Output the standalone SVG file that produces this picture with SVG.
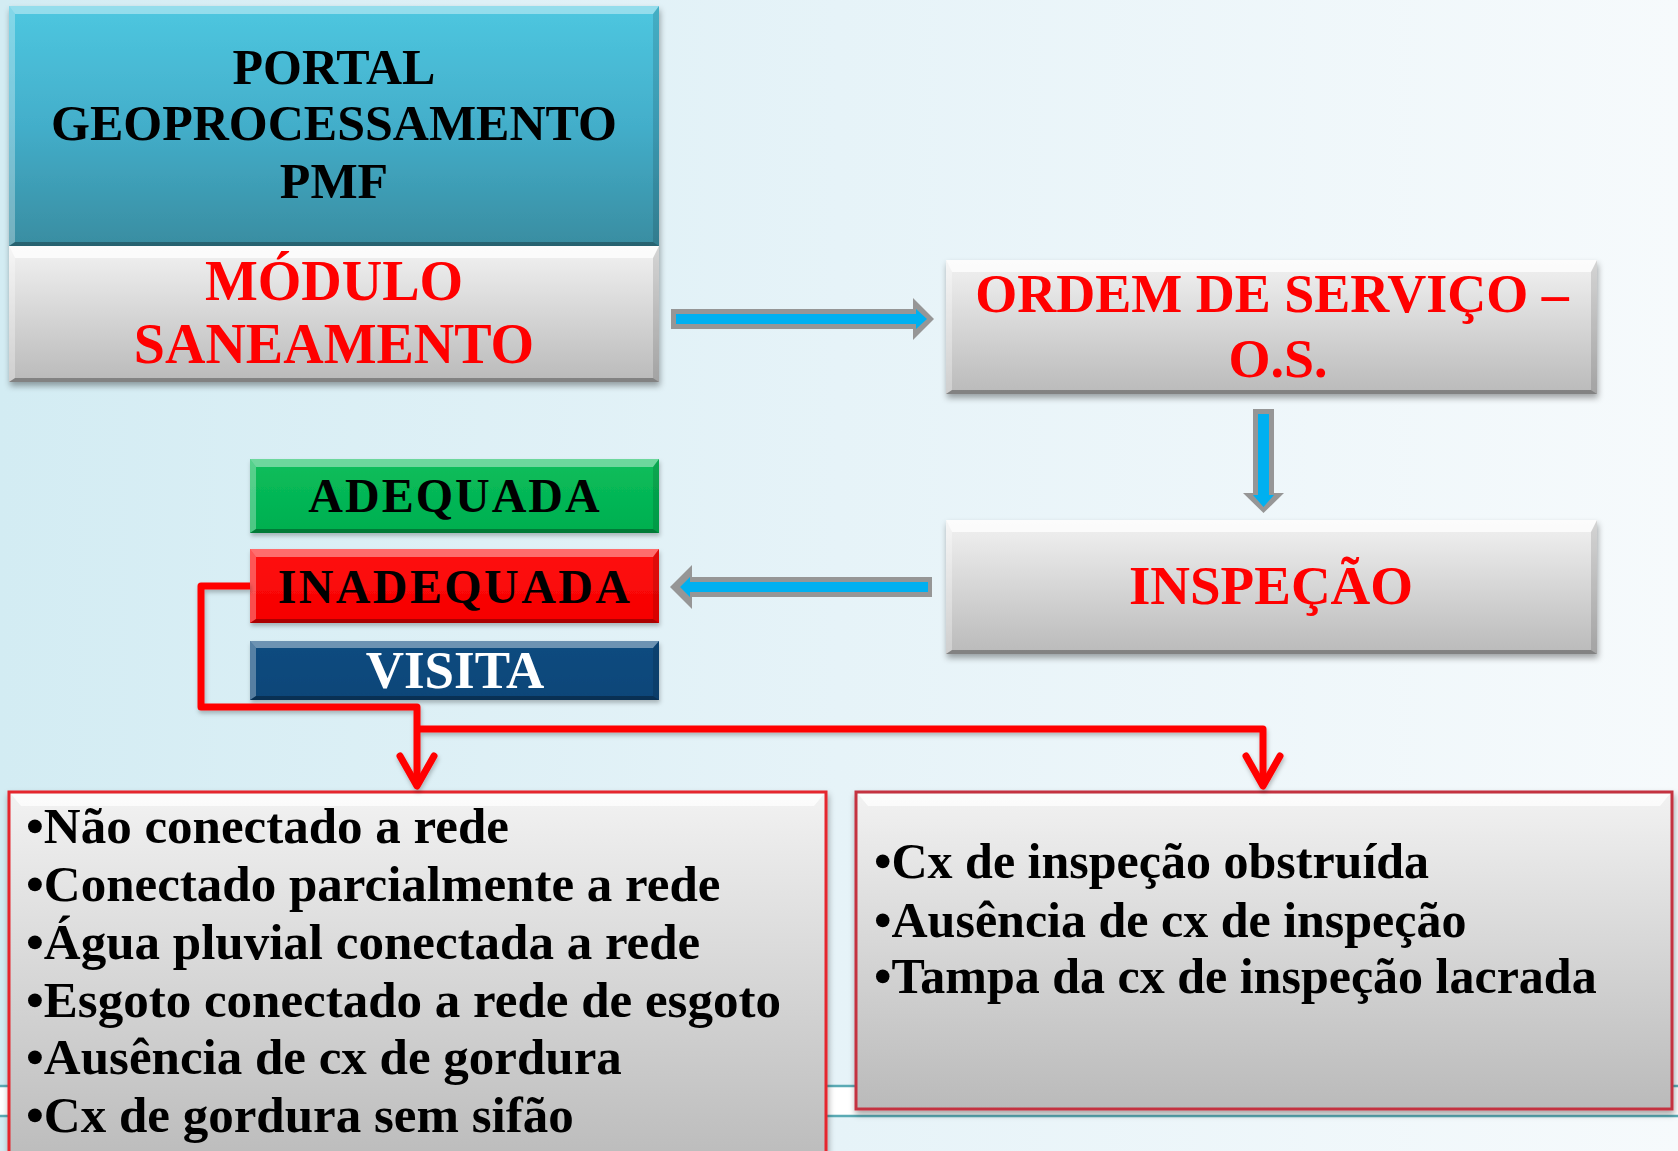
<svg xmlns="http://www.w3.org/2000/svg" width="1678" height="1151" viewBox="0 0 1678 1151">
<defs>
<linearGradient id="bg" x1="0" y1="0" x2="1" y2="0">
<stop offset="0" stop-color="#D3ECF3"/>
<stop offset="0.5" stop-color="#E6F3F8"/>
<stop offset="1" stop-color="#F6FAFC"/>
</linearGradient>
<linearGradient id="gTeal" x1="0" y1="0" x2="0" y2="1">
<stop offset="0" stop-color="#4EC7E0"/>
<stop offset="0.5" stop-color="#43AECA"/>
<stop offset="1" stop-color="#398DA1"/>
</linearGradient>
<linearGradient id="gGrey" x1="0" y1="0" x2="0" y2="1">
<stop offset="0" stop-color="#F2F2F2"/>
<stop offset="0.25" stop-color="#E4E4E4"/>
<stop offset="1" stop-color="#BABABA"/>
</linearGradient>
<linearGradient id="gGreen" x1="0" y1="0" x2="0" y2="1">
<stop offset="0" stop-color="#0BBE5C"/>
<stop offset="1" stop-color="#00AF4F"/>
</linearGradient>
<linearGradient id="gRed" x1="0" y1="0" x2="0" y2="1">
<stop offset="0" stop-color="#FF1010"/>
<stop offset="1" stop-color="#F50000"/>
</linearGradient>
<linearGradient id="gBlue" x1="0" y1="0" x2="0" y2="1">
<stop offset="0" stop-color="#0D4C80"/>
<stop offset="1" stop-color="#0A4578"/>
</linearGradient>
<filter id="sh" x="-5%" y="-10%" width="110%" height="130%">
<feDropShadow dx="1" dy="4" stdDeviation="3" flood-color="#000" flood-opacity="0.35"/>
</filter>
<filter id="shl" x="-5%" y="-10%" width="110%" height="130%">
<feDropShadow dx="1" dy="3" stdDeviation="2" flood-color="#000" flood-opacity="0.25"/>
</filter>
<marker id="vhead" markerUnits="userSpaceOnUse" markerWidth="50" markerHeight="50" viewBox="-40 -25 50 50" refX="0" refY="0" orient="auto">
<path d="M-30,-17 L0,0 L-30,17" fill="none" stroke="#FF0000" stroke-width="7" stroke-linecap="round" stroke-linejoin="round"/>
</marker>
<style>
.t{font-family:"Liberation Serif","Times New Roman",serif;font-weight:bold;text-anchor:middle}
.l{font-family:"Liberation Serif","Times New Roman",serif;font-weight:bold;font-size:50px;fill:#000}
.lb{font-size:51px}
.red{fill:#FF0000}
.blk{fill:#000}
.bt{fill:#FFFFFF;opacity:0.75}
.btc{fill:#FFFFFF;opacity:0.4}
.bl{fill:#FFFFFF;opacity:0.3}
.br{fill:#000000;opacity:0.12}
.bb{fill:#000000;opacity:0.3}
.ag{fill:#969696}
.ab{fill:#00B0F0}
.con{fill:none;stroke:#FF0000;stroke-width:7;stroke-linejoin:round}
</style>
</defs>

<rect x="0" y="0" width="1678" height="1151" fill="url(#bg)"/>
<rect x="0" y="1086" width="1678" height="30" fill="#FFFFFF"/>
<line x1="0" y1="1086" x2="1678" y2="1086" stroke="#5AAAB4" stroke-width="2.5"/>
<line x1="0" y1="1116" x2="1678" y2="1116" stroke="#5AAAB4" stroke-width="2.5"/>

<g id="portal">
<g filter="url(#sh)">
<rect x="9" y="6" width="650" height="240" fill="url(#gTeal)"/>
<rect x="9" y="246" width="650" height="136" fill="url(#gGrey)"/>
</g>
<path class="btc" d="M9,6 H659 L653,14 H15 Z"/>
<path class="bl" d="M9,6 L15,14 V242 L9,246 Z"/>
<path class="br" d="M659,6 V246 L653,242 V14 Z"/>
<path class="bb" d="M9,246 H659 L653,242 H15 Z"/>
<path class="bt" d="M9,246 H659 L653,258 H15 Z"/>
<path class="bl" d="M9,246 L15,258 V378 L9,382 Z"/>
<path class="br" d="M659,246 V382 L653,378 V258 Z"/>
<path class="bb" d="M9,382 H659 L653,378 H15 Z"/>
<text class="t blk" x="334" y="84" font-size="50">PORTAL</text>
<text class="t blk" x="334" y="140" font-size="50">GEOPROCESSAMENTO</text>
<text class="t blk" x="334" y="198" font-size="50">PMF</text>
<text class="t red" x="334" y="300" font-size="56">MÓDULO</text>
<text class="t red" x="334" y="363" font-size="56">SANEAMENTO</text>
</g>

<g id="ordem">
<rect x="946" y="260" width="651" height="134" fill="url(#gGrey)" filter="url(#sh)"/>
<path class="bt" d="M946,260 H1597 L1591,272 H952 Z"/>
<path class="bl" d="M946,260 L952,272 V390 L946,394 Z"/>
<path class="br" d="M1597,260 V394 L1591,390 V272 Z"/>
<path class="bb" d="M946,394 H1597 L1591,390 H952 Z"/>
<text class="t red" x="1272" y="312" font-size="54">ORDEM DE SERVIÇO –</text>
<text class="t red" x="1278" y="377" font-size="54">O.S.</text>
</g>

<g id="inspecao">
<rect x="946" y="520" width="651" height="134" fill="url(#gGrey)" filter="url(#sh)"/>
<path class="bt" d="M946,520 H1597 L1591,532 H952 Z"/>
<path class="bl" d="M946,520 L952,532 V650 L946,654 Z"/>
<path class="br" d="M1597,520 V654 L1591,650 V532 Z"/>
<path class="bb" d="M946,654 H1597 L1591,650 H952 Z"/>
<text class="t red" x="1271" y="604" font-size="55">INSPEÇÃO</text>
</g>

<g id="adequada">
<rect x="250" y="459" width="409" height="74" fill="url(#gGreen)" filter="url(#shl)"/>
<path class="btc" d="M250,459 H659 L653,467 H256 Z"/>
<path class="bl" d="M250,459 L256,467 V529 L250,533 Z"/>
<path class="br" d="M659,459 V533 L653,529 V467 Z"/>
<path class="bb" d="M250,533 H659 L653,529 H256 Z"/>
<text class="t blk" x="455" y="512" font-size="48" letter-spacing="2">ADEQUADA</text>
</g>

<g id="inadequada">
<rect x="250" y="549" width="409" height="74" fill="url(#gRed)" filter="url(#shl)"/>
<path class="btc" d="M250,549 H659 L653,557 H256 Z"/>
<path class="bl" d="M250,549 L256,557 V619 L250,623 Z"/>
<path class="br" d="M659,549 V623 L653,619 V557 Z"/>
<path class="bb" d="M250,623 H659 L653,619 H256 Z"/>
<text class="t blk" x="455" y="603" font-size="48" letter-spacing="2.4">INADEQUADA</text>
</g>

<g id="visita">
<rect x="250" y="641" width="409" height="59" fill="url(#gBlue)" filter="url(#shl)"/>
<path class="btc" d="M250,641 H659 L653,648 H256 Z"/>
<path class="bl" d="M250,641 L256,648 V696 L250,700 Z"/>
<path class="br" d="M659,641 V700 L653,696 V648 Z"/>
<path class="bb" d="M250,700 H659 L653,696 H256 Z"/>
<text class="t" x="455" y="688" font-size="53" fill="#FFFFFF">VISITA</text>
</g>

<g id="lista-esquerda">
<rect x="9" y="792" width="817" height="380" fill="url(#gGrey)" stroke="#E5262E" stroke-width="3" filter="url(#sh)"/>
<path class="bt" d="M11,794 H824 L814,806 H21 Z"/>
<text class="l lb" x="26" y="843">•Não conectado a rede</text>
<text class="l lb" x="26" y="901">•Conectado parcialmente a rede</text>
<text class="l lb" x="26" y="959">•Água pluvial conectada a rede</text>
<text class="l lb" x="26" y="1017">•Esgoto conectado a rede de esgoto</text>
<text class="l lb" x="26" y="1074">•Ausência de cx de gordura</text>
<text class="l lb" x="26" y="1132">•Cx de gordura sem sifão</text>
</g>

<g id="lista-direita">
<rect x="856" y="792" width="816" height="317" fill="url(#gGrey)" stroke="#C43340" stroke-width="3" filter="url(#sh)"/>
<path class="bt" d="M858,794 H1670 L1660,806 H868 Z"/>
<text class="l" x="874" y="878">•Cx de inspeção obstruída</text>
<text class="l" x="874" y="937">•Ausência de cx de inspeção</text>
<text class="l" x="874" y="993">•Tampa da cx de inspeção lacrada</text>
</g>

<g id="connectors">
<g id="arrow-modulo-ordem">
<polygon class="ag" points="671,309 913,309 913,298 934,319 913,340 913,329 671,329"/>
<polygon class="ab" points="676,314 916,314 916,309 927,319 916,329 916,324 676,324"/>
</g>
<g id="arrow-ordem-inspecao">
<polygon class="ag" points="1253,409 1274,409 1274,493 1284,493 1263.5,513 1243,493 1253,493"/>
<polygon class="ab" points="1258,414 1269,414 1269,495 1274,495 1263.5,507 1253,495 1258,495"/>
</g>
<g id="arrow-inspecao-resultado">
<polygon class="ag" points="932,577 692,577 692,565 670,587 692,609 692,597 932,597"/>
<polygon class="ab" points="928,582 690,582 690,577 680,587 690,597 690,592 928,592"/>
</g>
<g filter="url(#shl)">
<path class="con" d="M250,586 H201 V707 H417 V786" marker-end="url(#vhead)"/>
<path class="con" d="M417,729 H1263 V786" marker-end="url(#vhead)"/>
</g>
</g>
</svg>
